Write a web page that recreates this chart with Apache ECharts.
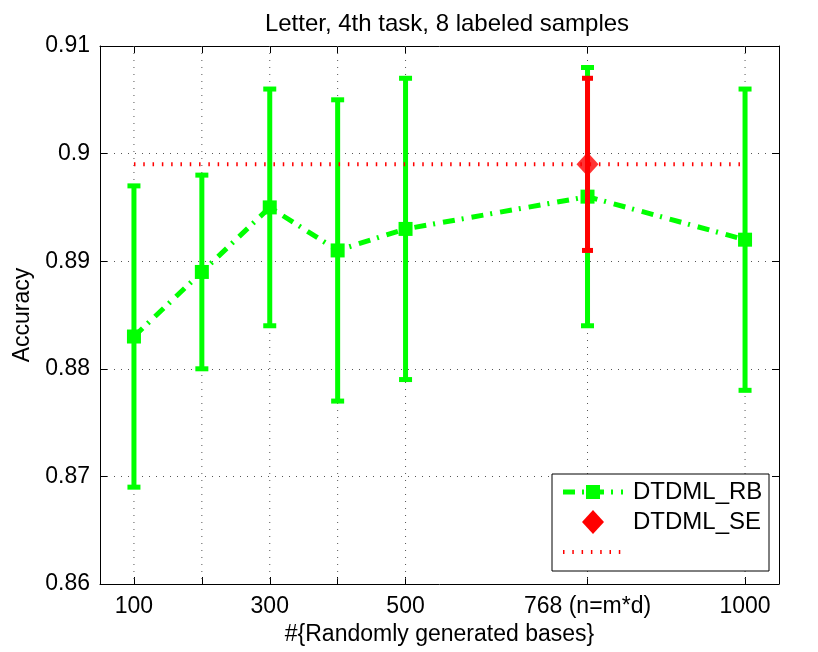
<!DOCTYPE html>
<html>
<head>
<meta charset="utf-8">
<script src="https://cdn.jsdelivr.net/npm/echarts@6/dist/echarts.min.js"></script>
<style>html,body{margin:0;padding:0;background:#fff}#c{width:818px;height:652px}</style>
</head>
<body>
<div id="c"></div>
<script>
// ---- data ----
var bases = [100, 200, 300, 400, 500, 768, 1000];
var rbMean = [0.883, 0.889, 0.895, 0.891, 0.893, 0.896, 0.892];
var rbLow  = [0.869, 0.880, 0.884, 0.877, 0.879, 0.884, 0.878];
var rbHigh = [0.897, 0.898, 0.906, 0.905, 0.907, 0.908, 0.906];
var seX = [768];
var seMean = [0.899];
var seLow = [0.891];
var seHigh = [0.907];
var xTickValues = [100, 200, 300, 400, 500, 768, 1000];
var xLabelValues = [100, 300, 500, 768, 1000];
var xLabelTexts = ['100', '300', '500', '768 (n=m*d)', '1000'];
var yTicks = [0.86, 0.87, 0.88, 0.89, 0.9, 0.91];
var seriesNames = ['DTDML_RB', 'DTDML_SE'];

var FONT = 'Liberation Sans';
var GREEN = '#00ff00', RED = '#ff0000';

function errBars(color, capW) {
  return function (params, api) {
    var x = api.value(0), lo = api.value(1), hi = api.value(2);
    var p1 = api.coord([x, lo]), p2 = api.coord([x, hi]);
    var w = 5;
    var st = { fill: color, stroke: null };
    return {
      type: 'group',
      children: [
        { type: 'rect', shape: { x: p1[0] - w / 2, y: p2[1], width: w, height: p1[1] - p2[1] }, style: st },
        { type: 'rect', shape: { x: p1[0] - capW / 2, y: p1[1] - w / 2, width: capW, height: w }, style: st },
        { type: 'rect', shape: { x: p2[0] - capW / 2, y: p2[1] - w / 2, width: capW, height: w }, style: st }
      ]
    };
  };
}

// vertical grid segments, drawn in the gaps between the axis ends and each error bar
function vGrid(params, api) {
  var x = api.value(0);
  var top = api.coord([x, yTicks[yTicks.length - 1]]);
  var bot = api.coord([x, yTicks[0]]);
  return { type: 'line', shape: { x1: top[0], y1: top[1], x2: bot[0], y2: bot[1] },
           style: { stroke: '#555', lineWidth: 1, lineDash: [1, 6] } };
}

var chart = echarts.init(document.getElementById('c'), null, { renderer: 'canvas' });
var dotted = { color: '#555', width: 1, type: [1, 6] };

var option = {
  animation: false,
  backgroundColor: '#fff',
  textStyle: { fontFamily: FONT },
  title: {
    text: 'Letter, 4th task, 8 labeled samples',
    left: 442, top: 7, textAlign: 'center',
    textStyle: { fontFamily: FONT, fontSize: 24, fontWeight: 'normal', color: '#000' }
  },
  grid: { left: 100, right: 39, top: 46, bottom: 68, containLabel: false },
  xAxis: [{
    type: 'value', min: 50, max: 1050, position: 'bottom',
    name: '#{Randomly generated bases}', nameLocation: 'middle', nameGap: 35,
    nameTextStyle: { fontFamily: FONT, fontSize: 23, color: '#000' },
    axisLine: { lineStyle: { color: '#000', width: 1 } },
    axisTick: { inside: true, length: 7, customValues: xTickValues, lineStyle: { color: '#000' } },
    axisLabel: {
      customValues: xLabelValues, margin: 11,
      fontFamily: FONT, fontSize: 23, color: '#000',
      formatter: function (v) { var i = xLabelValues.indexOf(v); return i >= 0 ? xLabelTexts[i] : ''; }
    },
    splitLine: { show: false }
  }, {
    type: 'value', min: 50, max: 1050, position: 'top',
    axisLine: { lineStyle: { color: '#000', width: 1 } },
    axisTick: { inside: true, length: 7, customValues: xTickValues, lineStyle: { color: '#000' } },
    axisLabel: { show: false }, splitLine: { show: false }
  }],
  yAxis: [{
    type: 'value', min: yTicks[0], max: yTicks[yTicks.length - 1], interval: 0.01, position: 'left',
    name: 'Accuracy', nameLocation: 'middle', nameGap: 66, nameRotate: 90,
    nameTextStyle: { fontFamily: FONT, fontSize: 23, color: '#000' },
    axisLine: { show: true, lineStyle: { color: '#000', width: 1 } },
    axisTick: { show: true, inside: true, length: 7, lineStyle: { color: '#000' } },
    axisLabel: {
      margin: 10, fontFamily: FONT, fontSize: 23, color: '#000',
      formatter: function (v) { return String(parseFloat(v.toFixed(2))); }
    },
    splitLine: { show: true, lineStyle: dotted }
  }, {
    type: 'value', min: yTicks[0], max: yTicks[yTicks.length - 1], interval: 0.01, position: 'right',
    axisLine: { show: true, lineStyle: { color: '#000', width: 1 } },
    axisTick: { show: true, inside: true, length: 7, lineStyle: { color: '#000' } },
    axisLabel: { show: false }, splitLine: { show: false }
  }],
  series: [
    {
      type: 'custom', name: 'vgrid', silent: true, z: 1, zlevel: 0,
      renderItem: vGrid,
      data: xTickValues.map(function (v) { return [v]; })
    },
    {
      type: 'custom', name: seriesNames[0] + ' err', z: 10, zlevel: 1,
      renderItem: errBars(GREEN, 13),
      data: bases.map(function (x, i) { return [x, rbLow[i], rbHigh[i]]; })
    },
    {
      type: 'line', name: seriesNames[0], z: 11, zlevel: 1,
      data: bases.map(function (x, i) { return [x, rbMean[i]]; }),
      lineStyle: { color: GREEN, width: 5, type: [12, 7, 2, 8] },
      itemStyle: { color: GREEN },
      symbol: 'rect', symbolSize: 14, showAllSymbol: true
    },
    {
      type: 'line', name: 'SE ref', z: 12, zlevel: 1,
      data: [[bases[0], seMean[0]], [bases[bases.length - 1], seMean[0]]],
      lineStyle: { color: RED, width: 4, type: [1.5, 7.8] },
      symbol: 'none'
    },
    {
      type: 'custom', name: seriesNames[1] + ' err', z: 13, zlevel: 1,
      renderItem: errBars(RED, 11),
      data: seX.map(function (x, i) { return [x, seLow[i], seHigh[i]]; })
    },
    {
      type: 'scatter', name: seriesNames[1], z: 14, zlevel: 1,
      data: seX.map(function (x, i) { return [x, seMean[i]]; }),
      symbol: 'diamond', symbolSize: [22, 24],
      itemStyle: { color: RED }
    }
  ],
  graphic: [
    { type: 'rect', zlevel: 2, shape: { x: 552, y: 474, width: 217, height: 97 }, style: { fill: '#fff', stroke: '#000', lineWidth: 1 }, z: 100 },
    { type: 'line', zlevel: 2, shape: { x1: 563, y1: 492, x2: 623, y2: 492 }, style: { stroke: GREEN, lineWidth: 5, lineDash: [12, 7, 2, 8] }, z: 101 },
    { type: 'rect', zlevel: 2, shape: { x: 586, y: 485, width: 14, height: 14 }, style: { fill: GREEN }, z: 102 },
    { type: 'text', zlevel: 2, x: 633, y: 492, style: { text: seriesNames[0], font: '24px "Liberation Sans"', fill: '#000', textVerticalAlign: 'middle', verticalAlign: 'middle' }, z: 102 },
    { type: 'polygon', zlevel: 2, shape: { points: [[593, 510], [604, 522], [593, 534], [582, 522]] }, style: { fill: RED }, z: 102 },
    { type: 'text', zlevel: 2, x: 633, y: 522, style: { text: seriesNames[1], font: '24px "Liberation Sans"', fill: '#000', textVerticalAlign: 'middle', verticalAlign: 'middle' }, z: 102 },
    { type: 'line', zlevel: 2, shape: { x1: 563, y1: 552, x2: 623, y2: 552 }, style: { stroke: RED, lineWidth: 4, lineDash: [1.5, 7.8] }, z: 101 }
  ]
};
chart.setOption(option);
</script>
</body>
</html>
